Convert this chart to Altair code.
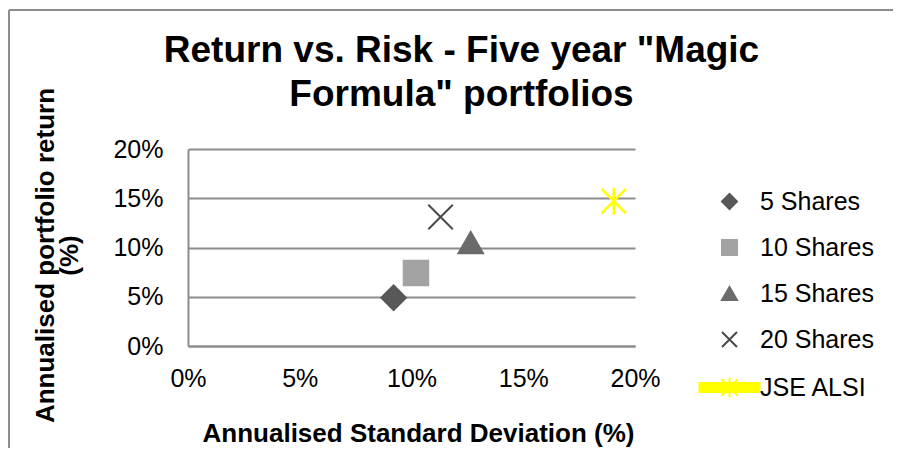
import altair as alt
import pandas as pd

series = ["5 Shares", "10 Shares", "15 Shares", "20 Shares", "JSE ALSI"]
std_dev = [0.092, 0.102, 0.1265, 0.113, 0.1905]
ret = [0.049, 0.074, 0.105, 0.131, 0.147]

fill_colors = ["#585858", "#a3a3a3", "#6b6b6b", "#4a4a4a", "#ffff00"]
x_ticks = [0, 0.05, 0.10, 0.15, 0.20]
y_ticks = [0, 0.05, 0.10, 0.15, 0.20]

X_PATH = "M-1,-1L1,1M1,-1L-1,1"
STAR_PATH = "M-1,-1L1,1M1,-1L-1,1M0,-1.1L0,1.1"
JSE_LEGEND_PATH = "M-4,-0.6L4,-0.6L4,0.6L-4,0.6Z M-1.1,-1.1L1.1,1.1M1.1,-1.1L-1.1,1.1M0,-1.3L0,1.3"
shapes = ["diamond", "square", "triangle-up", X_PATH, JSE_LEGEND_PATH]

df = pd.DataFrame({"series": series, "risk": std_dev, "ret": ret})

FONT = "Liberation Sans"

x_enc = alt.X(
    "risk:Q",
    scale=alt.Scale(domain=[0, 0.2], nice=False),
    axis=alt.Axis(
        values=x_ticks, format=".0%", grid=False, ticks=False, tickSize=0,
        domainColor="#8c8c8c", domainWidth=2, labelFlush=False,
        labelFont=FONT, labelFontSize=25, labelColor="#000", labelPadding=20,
        title="Annualised Standard Deviation (%)",
        titleFont=FONT, titleFontSize=26, titleFontWeight="bold", titleColor="#000",
        titleX=230, titleY=95, titleBaseline="alphabetic", titleAlign="center",
    ),
)
y_enc = alt.Y(
    "ret:Q",
    scale=alt.Scale(domain=[0, 0.2], nice=False),
    axis=alt.Axis(
        values=y_ticks, format=".0%", grid=True, gridColor="#8c8c8c", gridWidth=2,
        ticks=False, tickSize=0, labelFlush=False,
        domainColor="#8c8c8c", domainWidth=2,
        labelFont=FONT, labelFontSize=25, labelColor="#000", labelPadding=25,
        title=["Annualised portfolio return", "(%)"],
        titleFont=FONT, titleFontSize=26, titleFontWeight="bold", titleColor="#000",
        titleAngle=270, titleX=-135, titleY=106, titleBaseline="alphabetic",
        titleAlign="center", titleLineHeight=24,
    ),
)

legend = alt.Legend(
    title=None, orient="none", legendX=529, legendY=40,
    labelFont=FONT, labelFontSize=25, labelColor="#000", labelOffset=18,
    symbolSize=225, symbolStrokeWidth=2, rowPadding=20, padding=0,
)

base = alt.Chart(df)

shares = base.transform_filter(alt.datum.series != "JSE ALSI").mark_point(
    filled=True, size=600, strokeWidth=2, opacity=1
).encode(
    x=x_enc,
    y=y_enc,
    fill=alt.Fill("series:N", scale=alt.Scale(domain=series, range=fill_colors), legend=legend),
    stroke=alt.Stroke("series:N", scale=alt.Scale(domain=series, range=fill_colors), legend=legend),
    shape=alt.Shape("series:N", scale=alt.Scale(domain=series, range=shapes), legend=legend),
)

jse = base.transform_filter(alt.datum.series == "JSE ALSI").mark_point(
    shape=STAR_PATH, size=600, filled=False, stroke="#ffff00", strokeWidth=2.5, opacity=1
).encode(x="risk:Q", y="ret:Q")

border_left = alt.Chart(df).mark_rule(color="#8c8c8c", strokeWidth=2).encode(
    x=alt.value(-179), y=alt.value(-139), y2=alt.value(400)
)
border_top = alt.Chart(df).mark_rule(color="#8c8c8c", strokeWidth=2).encode(
    x=alt.value(-179), x2=alt.value(720), y=alt.value(-139)
)

chart = alt.layer(shares, jse, border_left, border_top).properties(
    width=447, height=197,
    padding={"left": 180, "top": 141, "right": 258, "bottom": 102},
    autosize=alt.AutoSizeParams(type="none"),
    title=alt.TitleParams(
        text=['Return vs. Risk - Five year "Magic', 'Formula" portfolios'],
        font=FONT, fontSize=37, fontWeight="bold", color="#000",
        anchor="middle", frame="group", dx=50, offset=-105, lineHeight=44,
    ),
).configure_view(stroke=None)

chart.save("out.html", embed_options={"renderer": "svg", "actions": False})
